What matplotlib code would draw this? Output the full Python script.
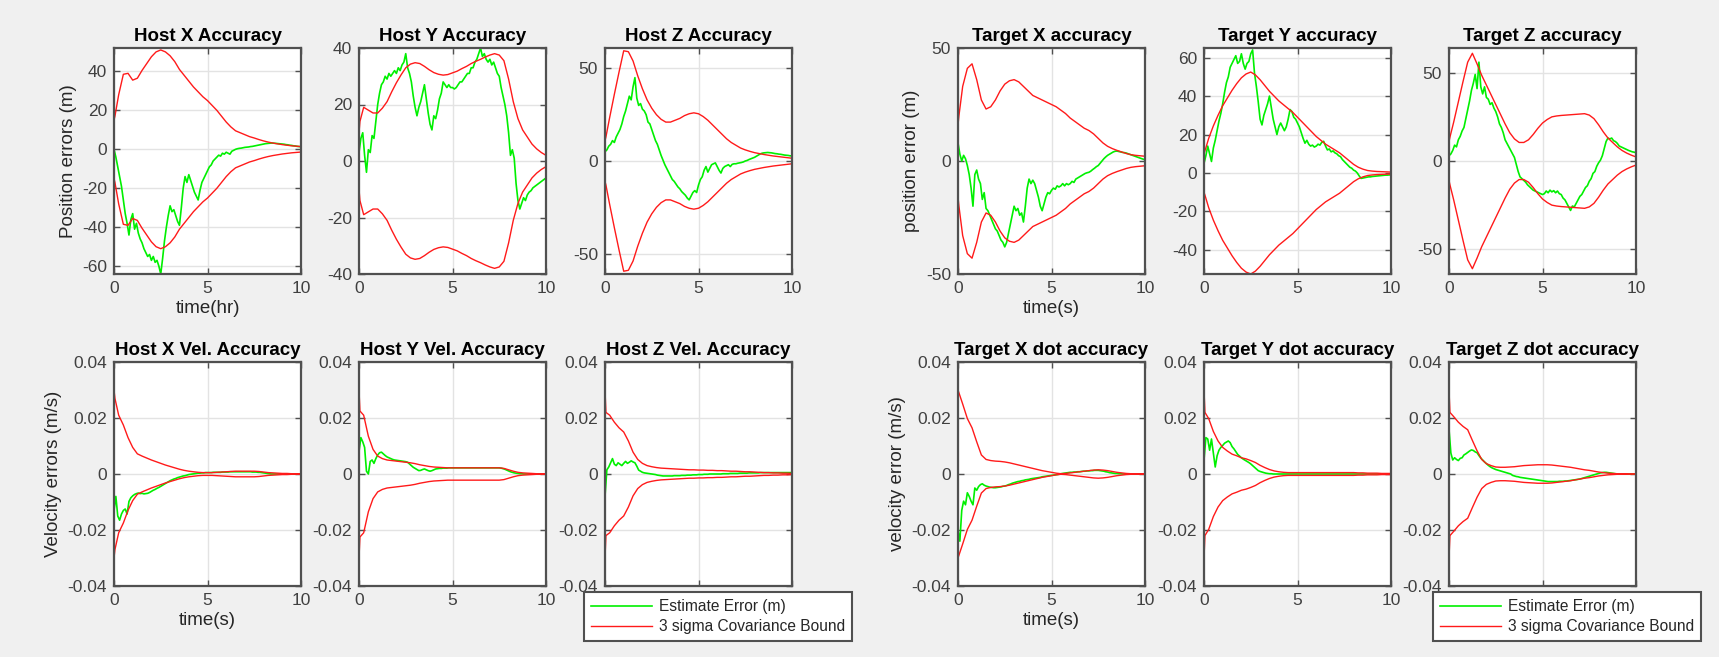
import matplotlib
matplotlib.use('Agg')
import matplotlib.pyplot as plt
from matplotlib.ticker import FuncFormatter
import numpy as np

plt.rcParams['font.family'] = ['Liberation Sans', 'DejaVu Sans']
plt.rcParams['axes.unicode_minus'] = False

# sample times of the error traces (s)
t_err = [0.0, 0.1, 0.2, 0.3, 0.4, 0.5, 0.6, 0.7, 0.8, 0.9, 1.0,
         1.1, 1.2, 1.3, 1.4, 1.5, 1.6, 1.7, 1.8, 1.9, 2.0,
         2.1, 2.2, 2.3, 2.4, 2.5, 2.6, 2.7, 2.8, 2.9, 3.0,
         3.1, 3.2, 3.3, 3.4, 3.5, 3.6, 3.7, 3.8, 3.9, 4.0,
         4.1, 4.2, 4.3, 4.4, 4.5, 4.6, 4.7, 4.8, 4.9, 5.0,
         5.1, 5.2, 5.3, 5.4, 5.5, 5.6, 5.7, 5.8, 5.9, 6.0,
         6.1, 6.2, 6.3, 6.4, 6.5, 6.6, 6.7, 6.8, 6.9, 7.0,
         7.1, 7.2, 7.3, 7.4, 7.5, 7.6, 7.7, 7.8, 7.9, 8.0,
         8.1, 8.2, 8.3, 8.4, 8.5, 8.6, 8.7, 8.8, 8.9, 9.0,
         9.1, 9.2, 9.3, 9.4, 9.5, 9.6, 9.7, 9.8, 9.9, 10.0]

# sample times of the 3 sigma bounds
t_bnd = [0, 0.05, 0.25, 0.5, 0.75, 1, 1.25, 1.5, 1.75, 2, 2.25, 2.5, 2.75, 3,
         3.25, 3.5, 3.75, 4, 4.25, 4.5, 4.75, 5, 5.25, 5.5, 5.75, 6, 6.25, 6.5,
         6.75, 7, 7.25, 7.5, 7.75, 8, 8.25, 8.5, 8.75, 9, 9.25, 9.5, 9.75, 10]

# ---- position errors (m) ----
host_x_err = [0, -4, -9, -14, -19, -26, -33, -38, -44, -36, -33,
              -41, -38, -43, -46, -48, -51, -53, -55, -54, -57,
              -55, -58, -57, -60, -64, -56, -47, -40, -34, -29,
              -32, -31, -34, -37, -39, -30, -20, -14, -17, -13,
              -16, -19, -22, -24, -26, -21, -17, -15, -13, -11,
              -9, -8, -6, -5, -4, -3, -3.5, -2, -2.5, -1.5,
              -2, -2.5, -1, -0.5, 0, 0.3, 0.5, 0.6, 0.8, 1.0,
              1.1, 1.2, 1.4, 1.5, 1.7, 1.9, 2.1, 2.3, 2.5, 2.7,
              2.9, 3.0, 3.1, 3.2, 3.2, 3.1, 3.0, 2.9, 2.8, 2.7,
              2.6, 2.4, 2.3, 2.1, 2.0, 1.8, 1.7, 1.5, 1.4, 1.3]
host_x_bnd = [15, 17,
              28, 38.5, 39, 35.5,
              36.5, 40.5, 44, 47.5,
              50, 51, 50, 48,
              45, 41, 38, 35,
              32, 29.5, 27, 25,
              22.5, 20, 17, 14,
              11.5, 9.5, 8.5, 7.5,
              6.5, 5.8, 5, 4.3,
              3.7, 3.2, 2.8, 2.4,
              2.1, 1.8, 1.6, 1.4]

host_y_err = [3, 8, 10, 2, -4, 4, 3, 9, 8, 14, 20,
              24, 27, 28, 30, 29, 31, 30, 31, 32, 31,
              33, 32, 34, 35, 38, 33, 31, 28, 23, 19,
              16, 19, 21, 24, 27, 22, 17, 13, 11, 16,
              15, 18, 22, 24, 28, 27, 26, 27, 26, 26,
              25.5, 26, 27, 28, 28, 29, 30, 31, 31, 33,
              33, 35, 36, 38, 40, 37, 38, 36, 35, 36,
              34, 35, 33, 31, 30, 26, 23, 20, 16, 10,
              2, 4, 1, -8, -14, -17, -15, -13, -14, -12,
              -11, -10.5, -9.5, -9, -8.5, -8, -7.5, -7, -6.5, -6]
host_y_bnd = [10, 14,
              19, 18, 17, 17,
              18.7, 21, 24.5, 27.7,
              30.5, 33, 34.3, 34.8,
              34.5, 33.5, 32.3, 31.3,
              30.7, 30.4, 30.6, 31.2,
              31.8, 32.7, 33.5, 34.5,
              35.3, 36, 36.8, 37.5,
              38, 37.5, 35.5, 29,
              21, 15, 11, 8.5,
              6, 4.3, 3, 2]

host_z_err = [5, 6, 8, 9, 11, 10, 13, 15, 17, 20, 24,
              27, 31, 35, 33, 40, 45, 34, 30, 31, 28,
              27, 25, 21, 20, 17, 14, 11, 9, 6, 3,
              0.5, -2, -4, -6, -8, -10, -11, -12.5, -14, -15,
              -16.5, -17.5, -18.5, -20, -21, -19, -17, -16, -17, -13,
              -10, -8.5, -5, -3, -6, -4, -2, -1.5, -1, -3,
              -5, -6.5, -4, -3, -2.5, -2, -3, -1.8, -1.5, -1.5,
              -1.2, -1, -0.8, -0.5, 0, 0.3, 0.8, 1.2, 1.6, 2,
              2.6, 3.2, 3.8, 4.2, 4.4, 4.5, 4.6, 4.5, 4.4, 4.2,
              4, 3.9, 3.7, 3.6, 3.4, 3.2, 3.1, 3, 2.8, 2.7]
host_z_bnd = [11, 13,
              23.5, 36, 48, 59.5,
              59, 54, 46, 39,
              33, 28.5, 25, 22.5,
              21, 21, 22, 23,
              24.5, 25.5, 26, 25.5,
              24, 22, 19.5, 17,
              14.5, 12, 10, 8.5,
              7, 6, 5.2, 4.5,
              4, 3.5, 3.1, 2.7,
              2.4, 2.1, 1.8, 1.5]

target_x_err = [8, 3, 0, 2.5, 1, -2, -6, -12, -20, -6, -4,
                -8, -10, -17, -14, -21, -22, -24, -26, -28, -30,
                -31, -33, -35, -36, -38, -36, -32, -28, -24, -20,
                -22, -21, -24, -23, -27, -20, -12, -8, -10, -8.5,
                -10, -13, -16, -20, -22, -19, -16, -14, -14.5, -13,
                -12, -12.5, -11, -11.5, -11, -10, -11, -10, -10.5, -10,
                -9, -9.5, -8, -7.5, -7, -6.5, -6, -5.5, -5.2, -5,
                -4.5, -3.8, -3.2, -2.5, -2, -1, 0, 1, 1.8, 2.5,
                3, 3.5, 4, 4.3, 4.4, 4.2, 4, 3.8, 3.7, 3.5,
                3.2, 2.9, 2.6, 2.3, 2, 1.7, 1.4, 1.1, 0.8, 0.6]
target_x_bnd = [16, 20,
                33, 41, 43, 36,
                27, 23, 24, 27,
                31, 34, 35.5, 36,
                35, 33, 31, 29,
                28, 27, 26, 25,
                24, 22.5, 21, 19,
                17.5, 16, 14.5, 13.5,
                12, 10, 8, 6.5,
                5.5, 4.7, 4, 3.3,
                2.8, 2.5, 2.3, 2.1]

target_y_err = [5, 9, 14, 10, 6, 13, 17, 22, 27, 31, 36,
                42, 47, 50, 55, 57, 59, 61, 57, 58, 62,
                57, 54, 57, 58, 62, 64, 52, 45, 37, 28,
                25, 30, 33, 36, 40, 34, 28, 24, 20, 24,
                26, 24, 22, 24, 28, 33, 32, 29, 28, 26,
                24, 21, 18, 15.5, 17, 15, 14, 14.5, 13.5, 14,
                15, 14.5, 16, 16.5, 14, 12, 12.5, 11, 11.5, 10.5,
                10, 9, 8.5, 7, 6, 5, 4, 3, 2.5, 1.5,
                1, 0, -1.5, -2.8, -2.6, -2.4, -2.2, -2, -2, -1.8,
                -1.7, -1.6, -1.5, -1.4, -1.3, -1.2, -1.1, -1.1, -1, -1]
target_y_bnd = [10, 11.5,
                18, 24.5, 30, 35,
                39, 43, 46.5, 49.5,
                51.5, 52.5, 51, 48.5,
                45.5, 42.5, 40, 37.5,
                35.5, 33.5, 31.5, 29,
                26.5, 24, 21.5, 19,
                17, 15, 13.5, 12,
                10.5, 8.5, 6.5, 4.5,
                3, 2, 1.3, 1,
                0.8, 0.7, 0.6, 0.5]

target_z_err = [3, 4, 6, 9, 8, 12, 14, 17, 19, 24, 29,
                34, 40, 44, 49, 41, 56, 42, 38, 42, 36,
                35, 32, 33, 30, 28, 25, 21, 19, 16, 12,
                10, 8, 6, 4, 2, -2, -6, -9, -10, -11,
                -12, -13.5, -14.5, -15.5, -16.5, -17, -17.5, -18, -18.5, -19,
                -18.5, -17, -18, -16.5, -17.5, -16.8, -18, -17, -18.5, -19,
                -21, -22, -24, -26, -28, -25.5, -26, -24, -22, -20,
                -19, -17, -15, -14, -11.5, -10, -7, -6, -3, -1,
                0.5, 3, 7, 11, 13, 12.5, 13, 11.5, 11, 10,
                8.5, 8, 7.5, 7, 6.5, 6, 5.6, 5.2, 5, 4.7]
target_z_bnd = [11, 13.5,
                22, 33.5, 45, 56,
                61, 55, 48.5, 43,
                37.5, 32, 26.5, 21,
                16, 12.5, 10.5, 10.5,
                12, 15, 18.5, 21.5,
                23.5, 25, 25.5, 25.8,
                26, 26.2, 26.4, 26.6,
                26.8, 26, 24, 20.5,
                16.5, 13, 10.5, 8,
                6, 4.5, 3.3, 2.3]

# ---- velocity errors (m/s) ----
host_xv_err = [-0.013, -0.008, -0.015, -0.0165, -0.0143, -0.013, -0.0125, -0.0143, -0.0098, -0.0085, -0.0078,
               -0.0073, -0.007, -0.0068, -0.007, -0.0069, -0.0071, -0.007, -0.0069, -0.0066, -0.0062,
               -0.0058, -0.0055, -0.0051, -0.0048, -0.0044, -0.004, -0.0036, -0.0032, -0.0028, -0.0024,
               -0.0021, -0.0018, -0.0016, -0.0013, -0.0011, -0.0009, -0.0007, -0.0006, -0.0004, -0.0002,
               -0.0001, 0, 0.0001, 0.0002, 0.0003, 0.0003, 0.0004, 0.0004, 0.0005, 0.0005,
               0.0005, 0.0005, 0.0006, 0.0006, 0.0006, 0.0006, 0.0006, 0.0007, 0.0007, 0.0007,
               0.0007, 0.0008, 0.0008, 0.0008, 0.0008, 0.0008, 0.0008, 0.0008, 0.0008, 0.0008,
               0.0008, 0.0008, 0.0008, 0.0007, 0.0007, 0.0007, 0.0006, 0.0006, 0.0005, 0.0004,
               0.0003, 0.0002, 0.0001, 0, 0, 0, 0, 0, 0, 0,
               0, 0, 0, 0, 0, 0, 0, 0, 0, 0]
host_xv_bnd = [0.030, 0.027,
               0.021, 0.0175, 0.013, 0.0095,
               0.0072, 0.0064, 0.0057, 0.005,
               0.0044, 0.0038, 0.0032, 0.0027,
               0.0022, 0.0017, 0.0013, 0.001,
               0.0008, 0.0006, 0.0005, 0.0005,
               0.0005, 0.0006, 0.0007, 0.0008,
               0.0009, 0.001, 0.001, 0.001,
               0.001, 0.001, 0.0009, 0.0007,
               0.0005, 0.0004, 0.0003, 0.0002,
               0.0002, 0.0001, 0.0001, 0.0001]

host_yv_err = [0.008, 0.013, 0.0115, 0.0095, 0.001, 0.0, 0.0045, 0.005, 0.0038, 0.0055, 0.0068,
               0.0076, 0.0078, 0.0072, 0.0066, 0.0061, 0.0058, 0.0055, 0.0052, 0.005, 0.0049,
               0.0048, 0.0047, 0.0046, 0.0045, 0.0044, 0.0042, 0.0036, 0.003, 0.0024, 0.002,
               0.0016, 0.0012, 0.0013, 0.0016, 0.0018, 0.0015, 0.0012, 0.001, 0.0012, 0.0015,
               0.0018, 0.0019, 0.002, 0.002, 0.0021, 0.0021, 0.0021, 0.0022, 0.0022, 0.0022,
               0.0022, 0.0022, 0.0022, 0.0022, 0.0022, 0.0022, 0.0022, 0.0022, 0.0022, 0.0022,
               0.0022, 0.0022, 0.0022, 0.0022, 0.0022, 0.0022, 0.0022, 0.0022, 0.0022, 0.0022,
               0.0022, 0.0022, 0.0022, 0.0022, 0.0022, 0.0021, 0.0019, 0.0017, 0.0014, 0.0011,
               0.0008, 0.0006, 0.0004, 0.0003, 0.0002, 0.0001, 0.0001, 0, 0, 0,
               0, 0, 0, 0, 0, 0, 0, 0, 0, 0]
host_yv_bnd = [0.030, 0.0225,
               0.021, 0.0135, 0.0088, 0.0064,
               0.0055, 0.005, 0.0048, 0.0046,
               0.0044, 0.0042, 0.004, 0.0037,
               0.0033, 0.003, 0.0027, 0.0025,
               0.0024, 0.0023, 0.0022, 0.0022,
               0.0022, 0.0022, 0.0022, 0.0022,
               0.0022, 0.0022, 0.0022, 0.0022,
               0.0022, 0.0022, 0.002, 0.0015,
               0.001, 0.0006, 0.0004, 0.0003,
               0.0002, 0.0001, 0.0001, 0.0001]

host_zv_err = [-0.008, 0.0015, 0.0025, 0.004, 0.0055, 0.0035, 0.003, 0.004, 0.0035, 0.003, 0.0038,
               0.0045, 0.0038, 0.0042, 0.0047, 0.0043, 0.004, 0.0028, 0.0014, 0.001, 0.0006,
               0.0004, 0.0003, 0.0002, 0.0001, 0, -0.0001, -0.0002, -0.0004, -0.0005, -0.0006,
               -0.0007, -0.0007, -0.0007, -0.0007, -0.0007, -0.0007, -0.0006, -0.0006, -0.0006, -0.0006,
               -0.0005, -0.0005, -0.0005, -0.0004, -0.0004, -0.0004, -0.0003, -0.0003, -0.0003, -0.0002,
               -0.0002, -0.0002, -0.0001, -0.0001, -0.0001, 0, 0, 0, 0, 0,
               0, 0, 0.0001, 0.0001, 0.0001, 0.0001, 0.0002, 0.0002, 0.0002, 0.0002,
               0.0002, 0.0003, 0.0003, 0.0003, 0.0003, 0.0003, 0.0004, 0.0004, 0.0004, 0.0004,
               0.0004, 0.0004, 0.0005, 0.0005, 0.0005, 0.0005, 0.0005, 0.0005, 0.0005, 0.0005,
               0.0005, 0.0005, 0.0005, 0.0005, 0.0005, 0.0005, 0.0005, 0.0005, 0.0005, 0.0005]
host_zv_bnd = [0.030, 0.022,
               0.021, 0.0185, 0.0165, 0.015,
               0.0118, 0.0078, 0.0052, 0.0038,
               0.003, 0.0026, 0.0023, 0.0021,
               0.002, 0.0019, 0.0018, 0.0017,
               0.0016, 0.0015, 0.0015, 0.0014,
               0.0014, 0.0013, 0.0013, 0.0012,
               0.0012, 0.0011, 0.001, 0.001,
               0.0009, 0.0008, 0.0008, 0.0007,
               0.0006, 0.0005, 0.0005, 0.0004,
               0.0004, 0.0003, 0.0003, 0.0002]

target_xv_err = [-0.02, -0.024, -0.013, -0.0097, -0.011, -0.0067, -0.008, -0.0097, -0.011, -0.005, -0.0058,
                 -0.0045, -0.0038, -0.0035, -0.004, -0.0043, -0.0045, -0.0047, -0.0048, -0.0049, -0.0049,
                 -0.0048, -0.0047, -0.0046, -0.0044, -0.0043, -0.0041, -0.0038, -0.0036, -0.0033, -0.0031,
                 -0.0029, -0.0027, -0.0026, -0.0024, -0.0023, -0.0021, -0.002, -0.0019, -0.0017, -0.0016,
                 -0.0015, -0.0014, -0.0013, -0.0012, -0.001, -0.0009, -0.0008, -0.0007, -0.0006, -0.0005,
                 -0.0004, -0.0003, -0.0002, -0.0001, 0.0001, 0.0002, 0.0003, 0.0004, 0.0005, 0.0006,
                 0.0006, 0.0007, 0.0007, 0.0008, 0.0008, 0.0009, 0.001, 0.001, 0.0011, 0.0011,
                 0.0012, 0.0012, 0.0013, 0.0013, 0.0013, 0.0012, 0.0011, 0.001, 0.0008, 0.0007,
                 0.0005, 0.0004, 0.0003, 0.0002, 0.0002, 0.0001, 0.0001, 0, 0, 0,
                 0, 0, 0, 0, 0, 0, 0, 0, 0, 0]
target_xv_bnd = [0.030, 0.029,
                 0.025, 0.0198, 0.0165, 0.0115,
                 0.0068, 0.0052, 0.0048, 0.0046,
                 0.0045, 0.0043, 0.004, 0.0036,
                 0.0032, 0.0028, 0.0024, 0.002,
                 0.0016, 0.0012, 0.0009, 0.0006,
                 0.0003, 0.0001, 0.0002, 0.0004,
                 0.0006, 0.0008, 0.001, 0.0012,
                 0.0014, 0.0015, 0.0014, 0.0012,
                 0.0009, 0.0006, 0.0004, 0.0002,
                 0.0001, 0.0001, 0.0001, 0.0001]

target_yv_err = [0.005, 0.013, 0.0125, 0.0085, 0.0125, 0.0075, 0.0025, 0.0065, 0.0085, 0.0095, 0.0102,
                 0.011, 0.0114, 0.0118, 0.0112, 0.0098, 0.009, 0.008, 0.007, 0.0064, 0.0058,
                 0.0053, 0.0049, 0.0045, 0.0041, 0.0036, 0.003, 0.0024, 0.0018, 0.0012, 0.0009,
                 0.0007, 0.0005, 0.0003, 0.0002, 0.0001, 0.0001, 0, 0, 0, 0,
                 0, 0, 0, 0, 0, 0, 0, 0, 0, 0,
                 0, 0, 0, 0, 0, 0, 0, 0, 0, 0,
                 0, 0, 0, 0, 0, 0, 0, 0, 0, 0,
                 0, 0, 0, 0, 0, 0, 0, 0, 0, 0,
                 0, 0, 0, 0, 0, 0, 0, 0, 0, 0,
                 0, 0, 0, 0, 0, 0, 0, 0, 0, 0]
target_yv_bnd = [0.030, 0.022,
                 0.0198, 0.0152, 0.0118, 0.0095,
                 0.0082, 0.0071, 0.0065, 0.0058,
                 0.0054, 0.0048, 0.0041, 0.0031,
                 0.0023, 0.0016, 0.0011, 0.0008,
                 0.0006, 0.0005, 0.0005, 0.0005,
                 0.0005, 0.0005, 0.0005, 0.0005,
                 0.0005, 0.0005, 0.0005, 0.0005,
                 0.0005, 0.0005, 0.0005, 0.0005,
                 0.0004, 0.0004, 0.0003, 0.0003,
                 0.0003, 0.0002, 0.0002, 0.0002]

target_zv_err = [0.016, 0.0075, 0.005, 0.0058, 0.0052, 0.0048, 0.0056, 0.0058, 0.0068, 0.0072, 0.0077,
                 0.0082, 0.0086, 0.0084, 0.0079, 0.0076, 0.0066, 0.0057, 0.005, 0.0043, 0.0037,
                 0.0031, 0.0026, 0.0022, 0.0019, 0.0016, 0.0014, 0.0012, 0.001, 0.0008, 0.0006,
                 0.0004, 0.0002, 0, -0.0005, -0.0007, -0.0009, -0.001, -0.0012, -0.0013, -0.0014,
                 -0.0015, -0.0016, -0.0017, -0.0018, -0.0019, -0.002, -0.0021, -0.0022, -0.0023, -0.0024,
                 -0.0025, -0.0026, -0.0027, -0.0027, -0.0027, -0.0027, -0.0027, -0.0027, -0.0026, -0.0026,
                 -0.0026, -0.0025, -0.0025, -0.0024, -0.0023, -0.0022, -0.0021, -0.002, -0.0019, -0.0018,
                 -0.0016, -0.0014, -0.0012, -0.001, -0.0008, -0.0006, -0.0004, -0.0002, 0, 0.0002,
                 0.0004, 0.0005, 0.0006, 0.0006, 0.0005, 0.0004, 0.0003, 0.0002, 0.0001, 0,
                 0, 0, 0, 0, 0, 0, 0, 0, 0, 0]
target_zv_bnd = [0.030, 0.022,
                 0.0205, 0.0185, 0.017, 0.0158,
                 0.012, 0.0083, 0.0052, 0.0037,
                 0.003, 0.0025, 0.0024, 0.0024,
                 0.0025, 0.0026, 0.0028, 0.003,
                 0.0031, 0.0032, 0.0033, 0.0033,
                 0.0033, 0.0032, 0.003, 0.0028,
                 0.0026, 0.0024, 0.0021, 0.0018,
                 0.0015, 0.0013, 0.001, 0.0007,
                 0.0005, 0.0003, 0.0002, 0.0001,
                 0.0001, 0.0001, 0, 0]

vel_ticks = [-0.04, -0.02, 0, 0.02, 0.04]

# title, error, bound, ylim, yticks, ylabel, xlabel
top_row = [
    ("Host X Accuracy", host_x_err, host_x_bnd, (-64, 52), [-60, -40, -20, 0, 20, 40], "Position errors (m)", "time(hr)"),
    ("Host Y Accuracy", host_y_err, host_y_bnd, (-40, 40), [-40, -20, 0, 20, 40], None, None),
    ("Host Z Accuracy", host_z_err, host_z_bnd, (-61, 61), [-50, 0, 50], None, None),
    ("Target X accuracy", target_x_err, target_x_bnd, (-50, 50), [-50, 0, 50], "position error (m)", "time(s)"),
    ("Target Y accuracy", target_y_err, target_y_bnd, (-52.5, 65), [-40, -20, 0, 20, 40, 60], None, None),
    ("Target Z accuracy", target_z_err, target_z_bnd, (-64, 64), [-50, 0, 50], None, None),
]
bottom_row = [
    ("Host X Vel. Accuracy", host_xv_err, host_xv_bnd, (-0.04, 0.04), vel_ticks, "Velocity errors (m/s)", "time(s)"),
    ("Host Y Vel. Accuracy", host_yv_err, host_yv_bnd, (-0.04, 0.04), vel_ticks, None, None),
    ("Host Z Vel. Accuracy", host_zv_err, host_zv_bnd, (-0.04, 0.04), vel_ticks, None, None),
    ("Target X dot accuracy", target_xv_err, target_xv_bnd, (-0.04, 0.04), vel_ticks, "velocity error (m/s)", "time(s)"),
    ("Target Y dot accuracy", target_yv_err, target_yv_bnd, (-0.04, 0.04), vel_ticks, None, None),
    ("Target Z dot accuracy", target_zv_err, target_zv_bnd, (-0.04, 0.04), vel_ticks, None, None),
]

W, H = 1719, 657
fig = plt.figure(figsize=(W / 100, H / 100), dpi=100, facecolor='#f0f0f0')

# axes boxes in pixels
col_left = [114, 359, 605, 958, 1204, 1449]
col_w = 187
row_top = [48, 362]
row_h = [226, 224]

GREEN = '#00f000'
RED = '#ff1a1a'
BOX = '#505050'
fmt = FuncFormatter(lambda v, p: f'{v:g}')

handles = None
for r, panels in enumerate([top_row, bottom_row]):
    for c, (title, err, bnd, ylim, yticks, ylabel, xlabel) in enumerate(panels):
        left = col_left[c] / W
        bottom = 1 - (row_top[r] + row_h[r]) / H
        ax = fig.add_axes([left, bottom, col_w / W, row_h[r] / H])
        ax.set_facecolor('white')
        ax.set_axisbelow(True)
        b = np.array(bnd)
        g, = ax.plot(t_err, err, color=GREEN, lw=1.2)
        rl, = ax.plot(t_bnd, b, color=RED, lw=1.0)
        ax.plot(t_bnd, -b, color=RED, lw=1.0)
        handles = [g, rl]

        ax.set_xlim(0, 10)
        ax.set_xticks([0, 5, 10])
        ax.set_ylim(*ylim)
        ax.set_yticks(yticks)
        ax.yaxis.set_major_formatter(fmt)
        ax.grid(True, color='#e3e3e3', lw=1.0)
        for s in ax.spines.values():
            s.set_color(BOX)
            s.set_linewidth(1.6)
        ax.tick_params(direction='in', length=4, width=1, color=BOX,
                       top=True, right=True, labelsize=12.5, labelcolor='#404040', pad=5)
        # the legend sits over the x tick labels of the last column
        if r == 1 and c in (2, 5):
            ax.tick_params(labelbottom=False)
        ax.set_title(title, fontsize=13.5, fontweight='bold', pad=5)
        if ylabel:
            ax.set_ylabel(ylabel, fontsize=13.5, color='#262626', labelpad=4)
        if xlabel:
            ax.set_xlabel(xlabel, fontsize=13.5, color='#262626', labelpad=3)

labels = ["Estimate Error (m)", "3 sigma Covariance Bound"]
for lx in [584, 1433]:
    leg = fig.legend(handles, labels, loc='upper left',
                     bbox_to_anchor=(lx / W, 1 - 592 / H), borderaxespad=0,
                     fontsize=11.2, handlelength=3.9, handletextpad=0.45,
                     borderpad=0.45, labelspacing=0.35, fancybox=False,
                     edgecolor=BOX, framealpha=1)
    leg.get_frame().set_linewidth(1.5)
    for txt in leg.get_texts():
        txt.set_color('#262626')

fig.savefig('out.png', dpi=100, facecolor=fig.get_facecolor())
